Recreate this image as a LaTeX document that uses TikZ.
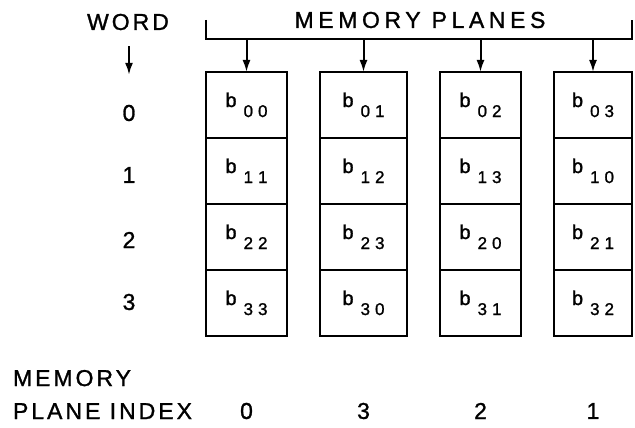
\documentclass[tikz,border=0pt]{standalone}
\usepackage{fontspec}
\setmainfont[LetterSpace=13,FakeBold=1.2]{Liberation Sans}
\newfontfamily\titlefont[LetterSpace=20,FakeBold=1.2]{Liberation Sans}
\usetikzlibrary{arrows.meta,shapes.multipart,chains,positioning}

% one stored bit: b with its two index digits set low
\newcommand{\bitcell}[2]{\rule[-30pt]{0pt}{64pt}%
  {\fontsize{20}{20}\selectfont b}\hspace{7pt}%
  \raisebox{-10pt}{\fontsize{17}{17}\selectfont #1\hspace{5pt}#2}}

\begin{document}
\begin{tikzpicture}[x=1pt,y=1pt,
      line width=2pt,
      plane/.style={
        rectangle split,
        rectangle split parts=4,
        draw,
        inner xsep=3pt,
        inner ysep=0pt,
        outer sep=0pt,
        minimum width=81pt,
        on chain
      },
      lbl/.style={font=\fontsize{23}{23}\selectfont, inner sep=0pt},
      >={Latex[length=12pt,width=8pt]},
      node distance=33pt,
      start chain=going right
    ]
    \useasboundingbox (0,0) rectangle (635,-428);

    \node[plane] at (246.5,-204) (col1)
      {\bitcell00 \nodepart{two}\bitcell11 \nodepart{three}\bitcell22 \nodepart{four}\bitcell33};
    \node[plane,minimum width=87pt] (col2)
      {\bitcell01 \nodepart{two}\bitcell12 \nodepart{three}\bitcell23 \nodepart{four}\bitcell30};
    \node[plane] (col3)
      {\bitcell02 \nodepart{two}\bitcell13 \nodepart{three}\bitcell20 \nodepart{four}\bitcell31};
    \node[plane,minimum width=78pt] (col4)
      {\bitcell03 \nodepart{two}\bitcell10 \nodepart{three}\bitcell21 \nodepart{four}\bitcell32};

    \node[lbl,font=\titlefont\fontsize{23}{23}\selectfont] (planes) at (420,-20) {MEMORY PLANES};
    \draw (col1.north west |- planes) -- ([yshift=33pt]col1.north west) -| (col4.north east |- planes);
    \foreach \c in {col1,col2,col3,col4}
      \draw[->] ([yshift=33pt]\c.north) -- (\c.north);

    % word numbers down the left
    \node[lbl] (word) at (128,-22) {WORD};
    \node[lbl] (w0) at (129,-113) {0};
    \node[lbl] (w1) at (129,-175) {1};
    \node[lbl] (w2) at (129,-240) {2};
    \node[lbl] (w3) at (129,-302) {3};
    \draw[->,shorten <=15pt,shorten >=29pt] (w0 |- word.south) -- (w0);

    % plane index row
    \node[lbl,font=\fontsize{23}{33}\selectfont,align=left,anchor=west] (index) at (12,-394.5)
      {MEMORY\\PLANE INDEX};
    \node[lbl] (p0) at (col1 |- 0,-411) {0};
    \node[lbl] (p1) at (col2 |- 0,-411) {3};
    \node[lbl] (p2) at (col3 |- 0,-411) {2};
    \node[lbl] (p3) at (col4 |- 0,-411) {1};
  \end{tikzpicture}
\end{document}
